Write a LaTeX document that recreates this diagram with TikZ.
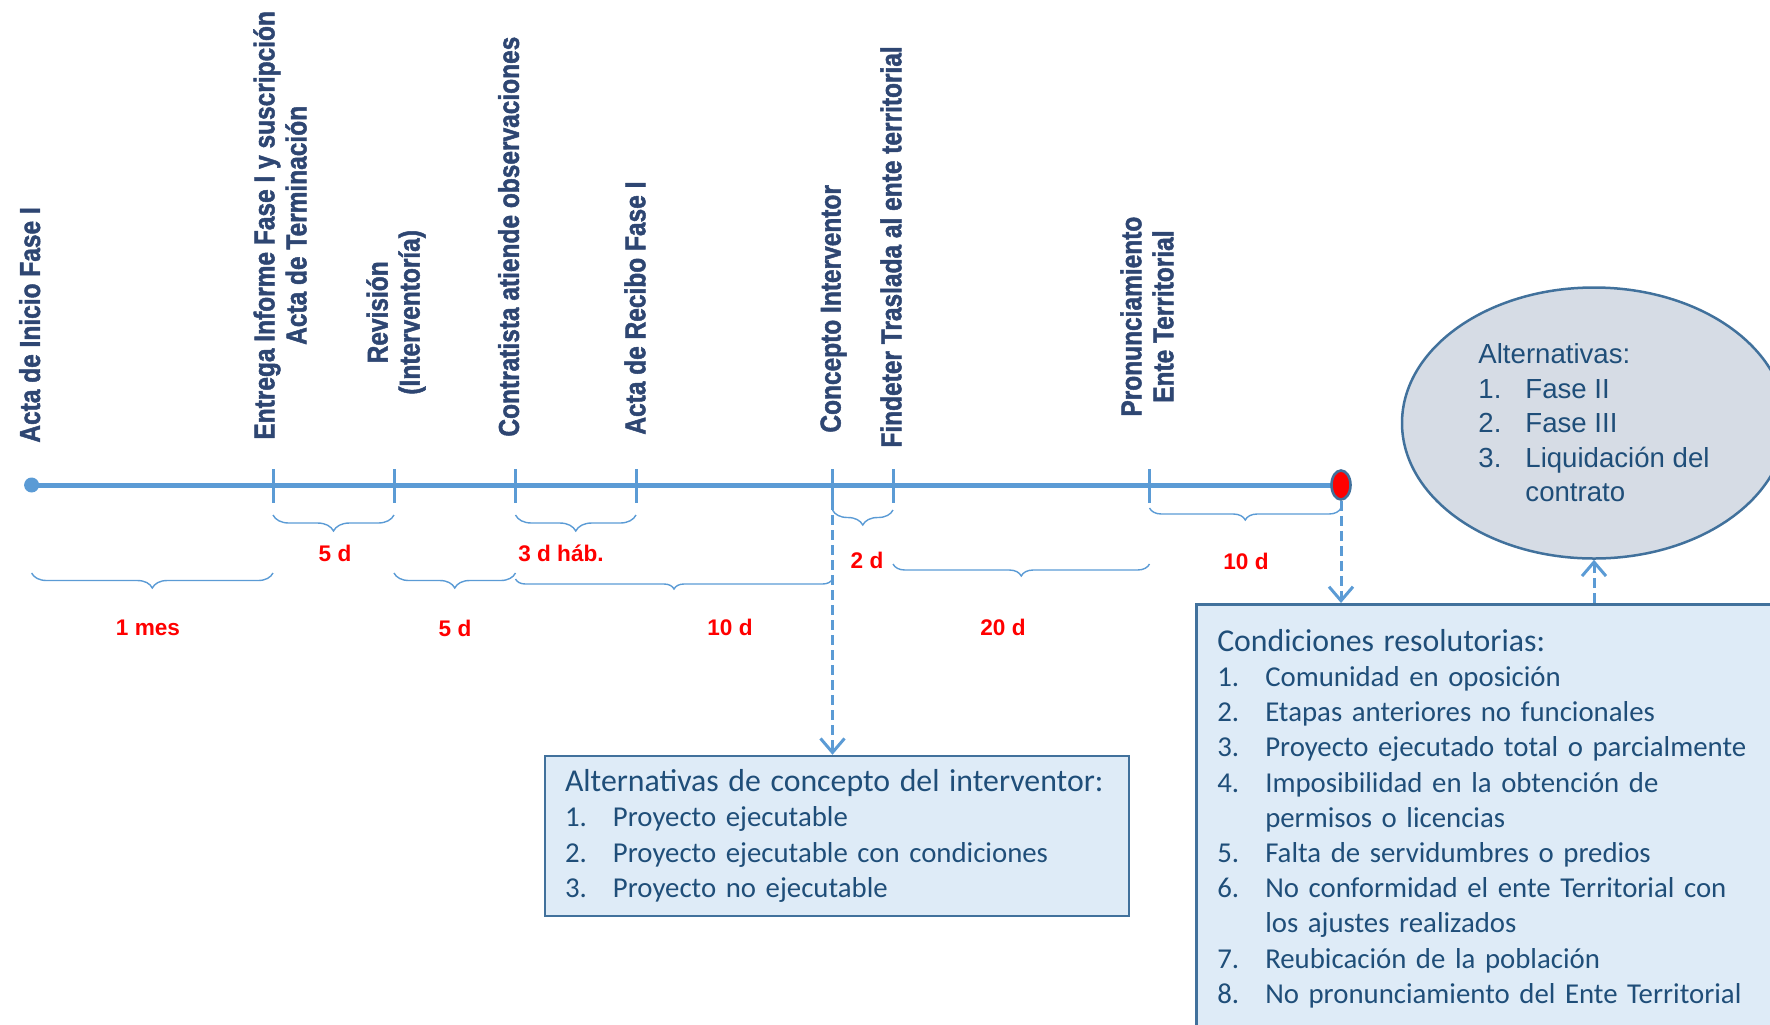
\documentclass[tikz,border=0pt]{standalone}
\usepackage{fontspec}
\setmainfont{Liberation Sans}
\newfontfamily\evfont[FakeStretch=0.85,FakeBold=1.6]{Liberation Sans Bold}
\newfontfamily\boxfont{Carlito}
\usepackage{xcolor}
\usetikzlibrary{arrows.meta,
	positioning,
	calc,
	shapes.geometric,
	decorations.pathreplacing}

\definecolor{lineblue}{HTML}{5B9BD5}
\definecolor{edgeblue}{HTML}{41719C}
\definecolor{labelblue}{HTML}{2E4672}
\definecolor{textblue}{HTML}{1F4E79}
\definecolor{boxfill}{HTML}{DEEBF7}
\definecolor{ellfill}{HTML}{D6DCE5}

\tikzset{
	event/.style={rotate=90, anchor=west, inner sep=0pt, align=center,
		text=labelblue, font=\evfont\fontsize{14.4}{16}\selectfont},
	dur/.style={text=red, inner sep=0pt, font=\bfseries\fontsize{11.3}{13}\selectfont},
	durbrace/.style={draw=lineblue, line width=0.7pt, decorate,
		decoration={brace, mirror, amplitude=#1}},
	tickmark/.style={draw=lineblue, line width=1.5pt},
	dasharrow/.style={draw=lineblue, line width=1.5pt, dash pattern=on 5pt off 2.5pt,
		-{Straight Barb[length=7pt,width=12pt]}},
	infobox/.style={draw=edgeblue, line width=1.25pt, fill=boxfill, text=textblue,
		align=left, font=\boxfont\fontsize{14.4}{17.6}\selectfont}
}
\newcommand{\itemno}[1]{\makebox[24pt][l]{#1}}
\newcommand{\boxhead}[1]{{\fontsize{15.9}{17.6}\selectfont #1}}

\begin{document}
\begin{tikzpicture}[x=0.5pt,y=-0.5pt]
        \clip (0,0) rectangle (1770,1024);

        %timeline
        \coordinate (tStart) at (31.6,485);
        \coordinate (tEntrega) at (273,485);
        \coordinate (tRevision) at (394,485);
        \coordinate (tContratista) at (515.5,485);
        \coordinate (tRecibo) at (636,485);
        \coordinate (tConcepto) at (832.5,485);
        \coordinate (tFindeter) at (893,485);
        \coordinate (tPronun) at (1149.5,485);
        \coordinate (tEnd) at (1341,485);

        \draw [lineblue, line width=2.5pt] (tStart)--(tEnd);
        \foreach \t in {tEntrega,tRevision,tContratista,tRecibo,tConcepto,tFindeter,tPronun}
            \draw [tickmark] ($(\t)+(0,-16)$)--($(\t)+(0,18)$);
        \node [circle, fill=lineblue, inner sep=0pt, minimum size=7.5pt] (startdot) at (tStart) {};
        \node [ellipse, fill=red, draw=edgeblue, line width=1.3pt, inner sep=0pt,
            minimum width=9.5pt, minimum height=14.5pt] (enddot) at (tEnd) {};

        %events
        \node [event] (evInicio) at (29.7,443) {Acta de Inicio Fase I};
        \node [event] (evEntrega) at (280,440) {Entrega Informe Fase I y suscripción\\Acta de Terminación};
        \node [event] (evRevision) at (396,395) {Revisión\\(Interventoría)};
        \node [event] (evContratista) at (508.6,437) {Contratista atiende observaciones};
        \node [event] (evRecibo) at (635,435) {Acta de Recibo Fase I};
        \node [event] (evConcepto) at (833.5,433) {Concepto Interventor};
        \node [event] (evFindeter) at (891,448) {Findeter Traslada al ente territorial};
        \node [event] (evPronun) at (1147,417) {Pronunciamiento\\Ente Territorial};

        %durations
        \draw [durbrace=8pt] ($(tEntrega)+(0,30)$)--($(tRevision)+(0,30)$);
        \draw [durbrace=8pt] ($(tContratista)+(0,30)$)--($(tRecibo)+(0,30)$);
        \draw [durbrace=7.5pt] ($(tStart)+(0,88)$)--($(tEntrega)+(0,88)$);
        \draw [durbrace=7.5pt] ($(tRevision)+(0,88)$)--($(tContratista)+(0,88)$);
        \draw [durbrace=5pt] ($(tContratista)+(0,94)$)--($(tConcepto)+(0,94)$);
        \draw [durbrace=7.5pt] ($(tConcepto)+(0,25)$)--($(tFindeter)+(0,25)$);
        \draw [durbrace=6pt] ($(tFindeter)+(0,79)$)--($(tPronun)+(0,79)$);
        \draw [durbrace=6pt] ($(tPronun)+(0,23)$)--($(tEnd)+(0,23)$);

        \node [dur] (dEntrega) at (335,553) {5 d};
        \node [dur] (dContratista) at (561,553) {3 d háb.};
        \node [dur] (dInicio) at (148,628) {1 mes};
        \node [dur] (dRevision) at (455,628) {5 d};
        \node [dur] (dConcepto) at (730,627) {10 d};
        \node [dur] (dFindeter) at (867,560) {2 d};
        \node [dur] (dTraslado) at (1003,627) {20 d};
        \node [dur] (dPronun) at (1246,561) {10 d};

        %boxes
        \node [infobox, text width=272pt, inner xsep=10pt, minimum height=80pt] (concbox) at (837,836)
            {\boxhead{Alternativas de concepto del interventor:}\\
             \itemno{1.}Proyecto ejecutable\\
             \itemno{2.}Proyecto ejecutable con condiciones\\
             \itemno{3.}Proyecto no ejecutable};

        \node [infobox, anchor=north west, text width=280pt, inner xsep=10.5pt, inner ysep=12.5pt]
            (condbox) at (1195,603)
            {\boxhead{Condiciones resolutorias:}\\
             \itemno{1.}Comunidad en oposición\\
             \itemno{2.}Etapas anteriores no funcionales\\
             \itemno{3.}Proyecto ejecutado total o parcialmente\\
             \itemno{4.}Imposibilidad en la obtención de\\
             \itemno{}permisos o licencias\\
             \itemno{5.}Falta de servidumbres o predios\\
             \itemno{6.}No conformidad el ente Territorial con\\
             \itemno{}los ajustes realizados\\
             \itemno{7.}Reubicación de la población\\
             \itemno{8.}No pronunciamiento del Ente Territorial};

        \node [ellipse, draw=edgeblue, line width=1.25pt, fill=ellfill, text=textblue,
            minimum width=192pt, minimum height=135.5pt, align=left,
            font=\fontsize{13.8}{17.25}\selectfont] (altell) at (1594,423)
            {Alternativas:\\
             \makebox[23.5pt][l]{1.}Fase II\\
             \makebox[23.5pt][l]{2.}Fase III\\
             \makebox[23.5pt][l]{3.}Liquidación del\\
             \makebox[23.5pt][l]{}contrato};

        %connectors
        \draw [dasharrow] (tConcepto)--(tConcepto |- concbox.north);
        \draw [dasharrow] (enddot.south)--(enddot.south |- condbox.north);
        \draw [dasharrow] (altell.south |- condbox.north)--(altell.south);
\end{tikzpicture}
\end{document}
